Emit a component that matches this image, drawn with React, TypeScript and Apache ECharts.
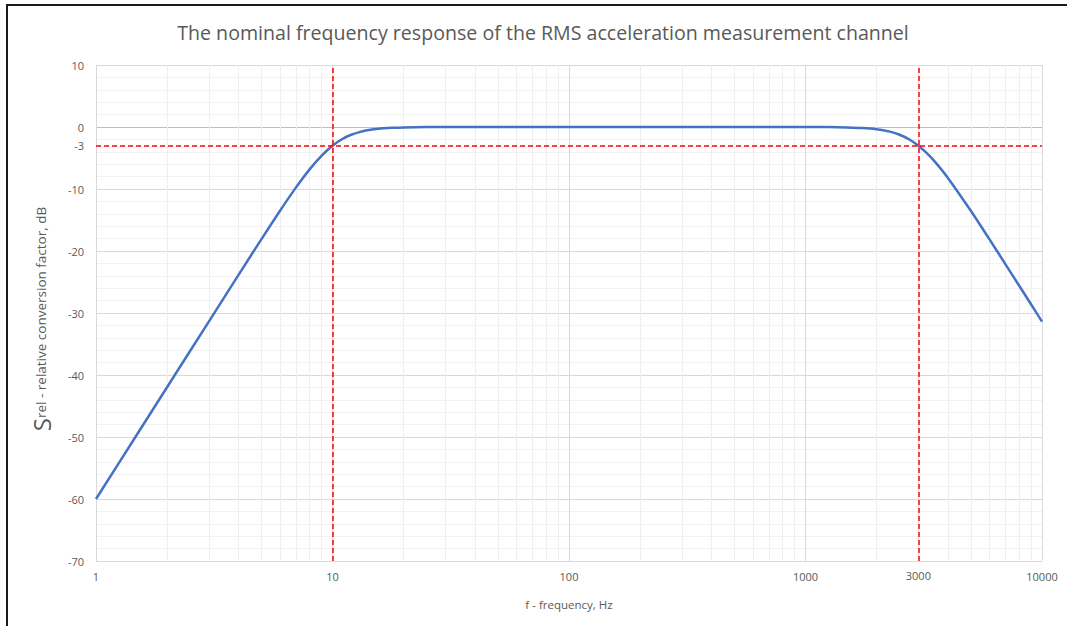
import React, { useEffect, useRef } from "react";
import * as echarts from "echarts";

const titleText = "The nominal frequency response of the RMS acceleration measurement channel";
const freqs = [1, 1.5, 2, 3, 4, 5, 6, 7, 8, 9, 10, 11, 12, 13, 14, 16, 18, 20, 25, 30, 40, 50, 70, 100, 200, 500, 1000, 1250, 1500, 1750, 2000, 2250, 2500, 2750, 3000, 3250, 3500, 4000, 5000, 6000, 7000, 8000, 9000, 10000];
const response = [-60.0, -49.43, -41.94, -31.38, -23.89, -18.13, -13.51, -9.78, -6.83, -4.6, -3.01, -1.93, -1.25, -0.82, -0.54, -0.25, -0.13, -0.07, -0.02, -0.01, 0, 0, 0, 0, 0, 0, -0.01, -0.02, -0.07, -0.17, -0.37, -0.71, -1.25, -2.02, -3.01, -4.18, -5.47, -8.21, -13.51, -18.13, -22.11, -25.57, -28.63, -31.38];
const minorFreqs = [2, 3, 4, 5, 6, 7, 8, 9, 20, 30, 40, 50, 60, 70, 80, 90, 200, 300, 400, 500, 600, 700, 800, 900, 2000, 3000, 4000, 5000, 6000, 7000, 8000, 9000];
const cutoffFreqs = [10, 3000];
const cutoffLabels = ["", "3000"];
const cutoffLevel = -3;
const yTickColors = ["#d9d9d9", "#d9d9d9", "#d9d9d9", "#d9d9d9", "#d9d9d9", "#d9d9d9", "#d9d9d9", "#bfbfbf", "#d9d9d9"];

const FONT = "Open Sans";
const TXT = "#595959";

export default function App() {
  const ref = useRef<HTMLDivElement>(null);
  useEffect(() => {
    if (!ref.current) return;
    const chart = echarts.init(ref.current, null, { renderer: "svg" });
    const curve = freqs.map((f, i) => [f, response[i]]);
    chart.setOption({
      animation: false,
      backgroundColor: "#ffffff",
      textStyle: { fontFamily: FONT },
      title: {
        text: titleText,
        left: 538,
        textAlign: "center",
        top: 17,
        textStyle: { fontFamily: FONT, fontSize: 19.6, fontWeight: "normal", color: TXT },
      },
      graphic: [
        {
          type: "rect",
          shape: { x: 7, y: 5, width: 1100, height: 700 },
          style: { fill: "none", stroke: "#1a1a1a", lineWidth: 2 },
          silent: true,
        },
      ],
      grid: { left: 96, right: 25, top: 65, bottom: 65 },
      xAxis: {
        type: "log",
        logBase: 10,
        min: 1,
        max: 10000,
        axisLine: { show: false },
        axisTick: { show: false },
        axisLabel: { color: TXT, fontSize: 11, fontFamily: FONT, margin: 10, formatter: (v: number) => String(Math.round(v)) },
        splitLine: { show: true, lineStyle: { color: "#d9d9d9", width: 1 } },
        name: "f - frequency, Hz",
        nameLocation: "middle",
        nameGap: 37,
        nameTextStyle: { color: TXT, fontSize: 11.5, fontFamily: FONT },
      },
      yAxis: {
        type: "value",
        min: -70,
        max: 10,
        interval: 10,
        axisLine: { show: false },
        axisTick: { show: false },
        axisLabel: { color: TXT, fontSize: 11, fontFamily: FONT, margin: 12 },
        splitLine: { show: true, lineStyle: { color: yTickColors, width: 1 } },
        minorTick: { show: false, splitNumber: 5 },
        minorSplitLine: { show: true, lineStyle: { color: "#f2f2f2", width: 1 } },
        name: "{s|S}{r|rel - relative conversion factor, dB}",
        nameLocation: "middle",
        nameGap: 43,
        nameRotate: 90,
        nameTextStyle: {
          color: TXT,
          fontFamily: FONT,
          padding: [0, 12, 0, 0],
          rich: {
            s: { fontSize: 24, color: TXT, fontFamily: FONT },
            r: { fontSize: 13.5, color: TXT, fontFamily: FONT },
          },
        },
      },
      series: [
        {
          type: "line",
          data: [],
          z: 1,
          silent: true,
          markLine: {
            z: 1,
            silent: true,
            symbol: ["none", "none"],
            label: { show: false },
            lineStyle: { color: "#efefef", width: 1, type: "solid" },
            data: minorFreqs.map((f) => ({ xAxis: f })),
          },
        },
        {
          type: "line",
          data: curve,
          z: 3,
          smooth: 0.3,
          showSymbol: false,
          lineStyle: { color: "#4472c4", width: 2.5 },
        },
        {
          type: "line",
          data: [],
          z: 4,
          silent: true,
          markLine: {
            z: 4,
            silent: true,
            symbol: ["none", "none"],
            lineStyle: { color: "#ff0000", width: 1.5, type: [5, 3] },
            data: [
              ...cutoffFreqs.map((f, i) => ({
                xAxis: f,
                label: {
                  show: cutoffLabels[i] !== "",
                  position: "start",
                  formatter: cutoffLabels[i],
                  color: TXT,
                  fontSize: 11,
                  fontFamily: FONT,
                  distance: 9,
                },
              })),
              {
                yAxis: cutoffLevel,
                label: {
                  show: true,
                  position: "start",
                  formatter: String(cutoffLevel),
                  color: TXT,
                  fontSize: 11,
                  fontFamily: FONT,
                  distance: 12,
                },
              },
            ],
          },
        },
      ],
    });
    return () => chart.dispose();
  }, []);
  return (
    <div
      ref={ref}
      style={{ position: "fixed", left: 0, top: 0, width: 1067, height: 626, background: "#fff" }}
    />
  );
}
